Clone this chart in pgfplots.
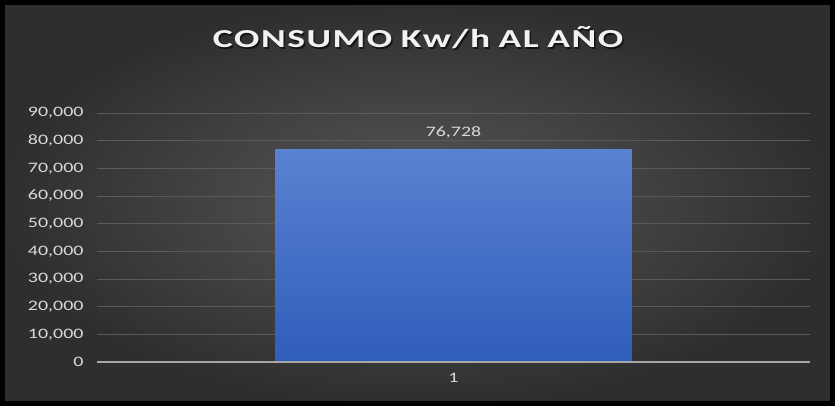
\documentclass[border=0pt]{standalone}
\usepackage{pgfplots}
\pgfplotsset{compat=1.18}
\usepackage{fontspec}
\setmainfont{Carlito}
\definecolor{bgin}{HTML}{585858}
\definecolor{bgout}{HTML}{2E2E2E}
\definecolor{gridc}{HTML}{5A5A5A}
\definecolor{zeroc}{HTML}{A6A6A6}
\definecolor{txt}{HTML}{D9D9D9}
\definecolor{bartop}{HTML}{5A82D2}
\definecolor{barbot}{HTML}{2F5DBA}
\newcommand{\ttl}{C\kern.04em O\kern.04em N\kern.04em S\kern.04em U\kern.04em M\kern.04em O\ K\kern.04em w\kern.04em /\kern.04em h\ A\kern.04em L\ A\kern.04em Ñ\kern.04em O}
\begin{document}
\begin{tikzpicture}
% background panel
\shade[inner color=bgin, outer color=bgout] (0,0) rectangle (835bp,406bp);
\draw[black, line width=5bp] (2.5bp,2.5bp) rectangle (832.5bp,403.5bp);
\begin{axis}[
    at={(97bp,44bp)}, anchor=south west,
    width=713bp, height=249bp,
    scale only axis,
    xmin=0, xmax=2,
    ymin=0, ymax=90000,
    xtick={1},
    ytick={0,10000,...,90000},
    axis line style={draw=none},
    major tick length=0pt,
    ymajorgrids,
    grid style={gridc, line width=0.8bp},
    scaled y ticks=false,
    /pgf/number format/assume math mode=true,
    /pgf/number format/1000 sep={,},
    yticklabel={\scalebox{1.38}[1]{\pgfmathprintnumber{\tick}}},
    yticklabel style={font=\fontsize{14.5}{16}\selectfont, text=txt, anchor=east, xshift=-10bp},
    xticklabel style={font=\fontsize{14.5}{16}\selectfont, text=txt, yshift=-8bp},
    xticklabel={\scalebox{1.38}[1]{\pgfmathprintnumber{\tick}}},
    clip=false,
]
\addplot[ybar, bar width=356bp, draw=none, top color=bartop, bottom color=barbot,
    nodes near coords={\scalebox{1.38}[1]{\pgfmathprintnumber{\pgfplotspointmeta}}},
    nodes near coords style={font=\fontsize{14.5}{16}\selectfont, text=txt, anchor=south, yshift=8bp}]
    coordinates {(1,76728)};
\draw[zeroc, line width=1.5bp] (axis cs:0,0) -- (axis cs:2,0);
\end{axis}
% title with soft shadow
\node[text=black, opacity=0.6, font=\bfseries\fontsize{26}{30}\selectfont] at (419.5bp,366.5bp)
    {\scalebox{1.45}[1]{\ttl}};
\node[text=white!95!black, font=\bfseries\fontsize{26}{30}\selectfont] at (418bp,368bp)
    {\scalebox{1.45}[1]{\ttl}};
\pgfresetboundingbox
\path (0,0) rectangle (835bp,406bp);
\end{tikzpicture}
\end{document}
